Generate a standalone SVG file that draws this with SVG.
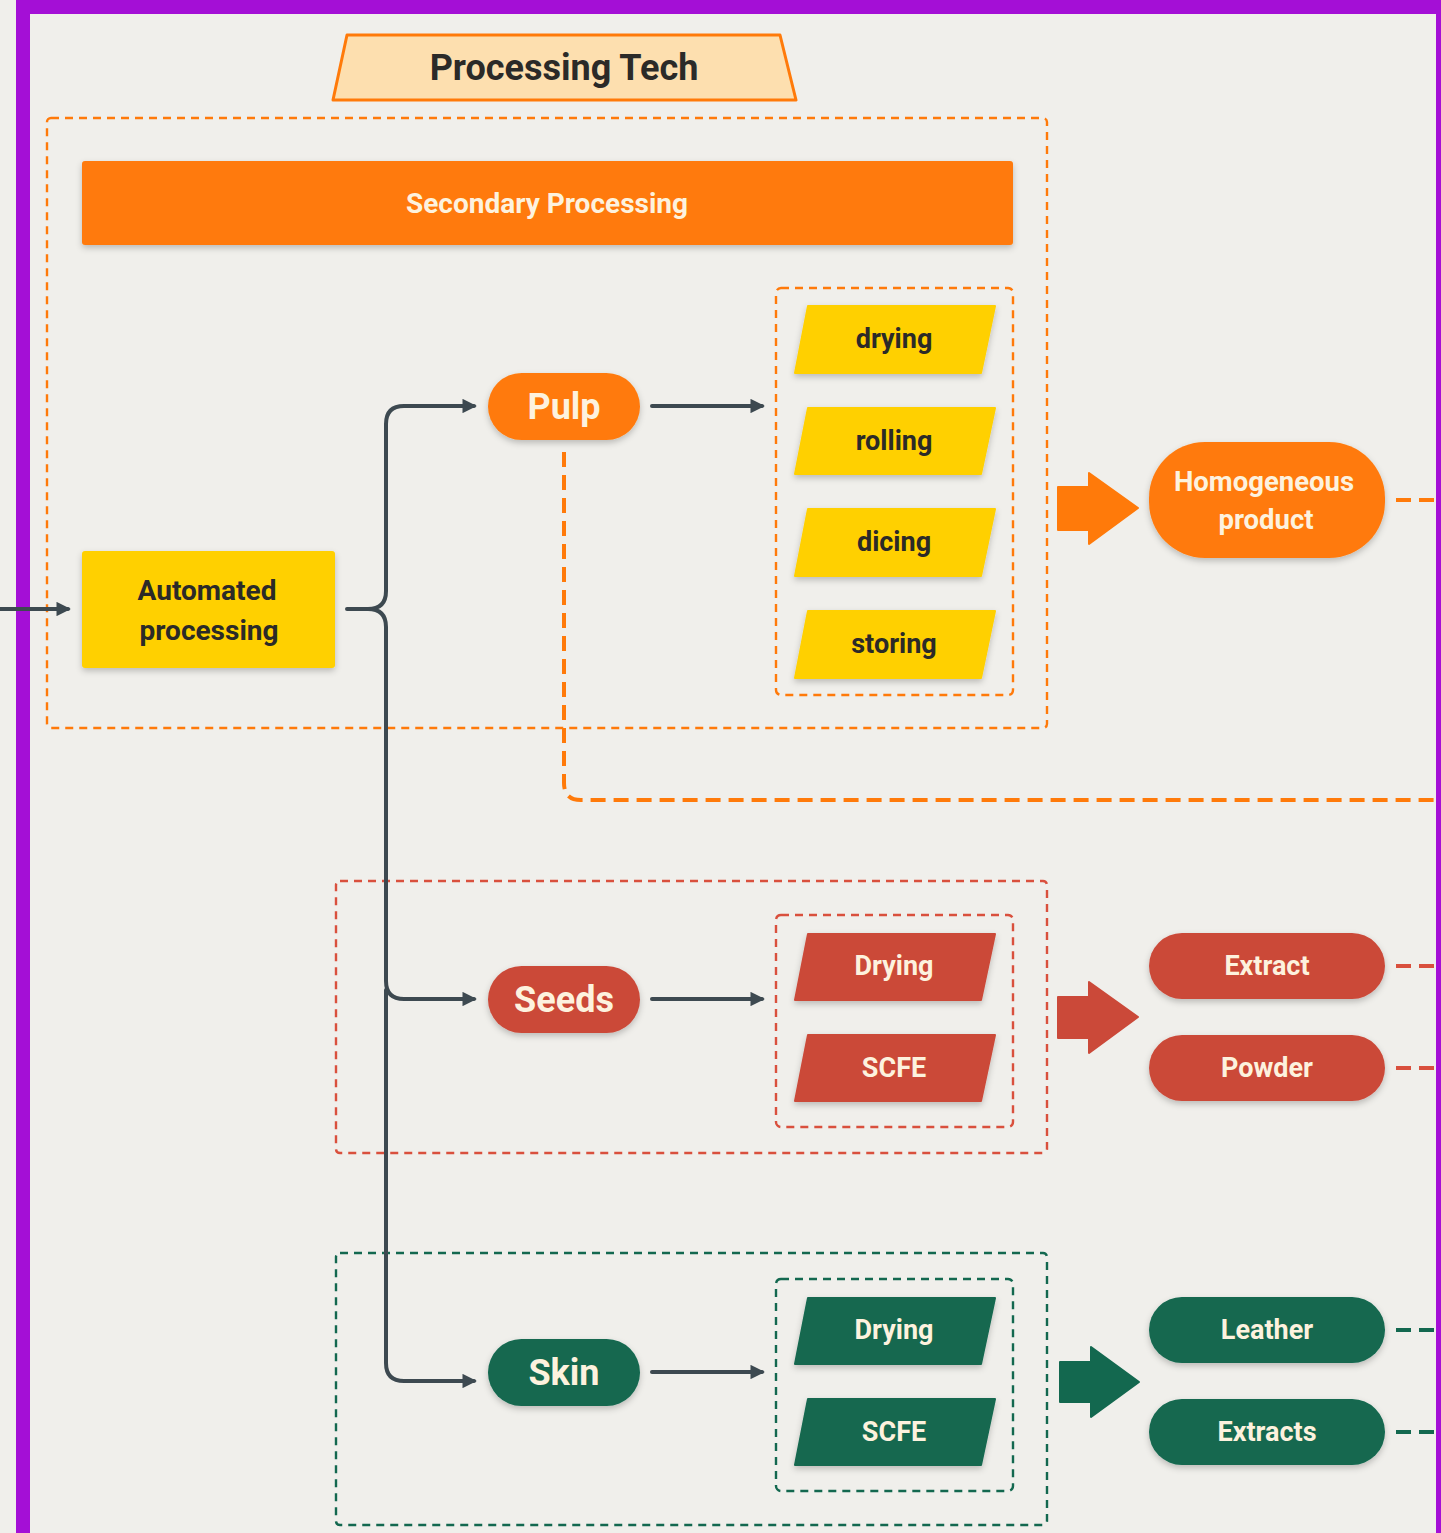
<svg xmlns="http://www.w3.org/2000/svg" width="1441" height="1533" viewBox="0 0 1441 1533">
  <defs>
    <style>
      .lbl { font-family: Roboto, "Liberation Sans", sans-serif; font-weight: 700; text-anchor: middle; }
      .dark { fill: #2B2A28; }
      .light { fill: #FDF2DE; }
      .conn { fill: none; stroke: #3D4950; stroke-width: 4; stroke-linecap: round; stroke-linejoin: round; }
      .grp { fill: none; stroke-width: 2.4; stroke-dasharray: 8 6; }
      .orange { fill: #FF7A0A; }
      .yellow { fill: #FFD000; }
      .red { fill: #CB4939; }
      .green { fill: #13684F; }
      .sh { filter: url(#shadow); }
    </style>
    <filter id="shadow" x="-10%" y="-20%" width="120%" height="150%">
      <feDropShadow dx="0" dy="3" stdDeviation="3" flood-color="#000" flood-opacity="0.22"/>
    </filter>
    <marker id="arr" viewBox="0 0 10 10" refX="8" refY="5" markerWidth="3.6" markerHeight="3.6" orient="auto" markerUnits="strokeWidth">
      <path d="M0,0 L10,5 L0,10 z" fill="#3D4950"/>
    </marker>
  </defs>

  <!-- page background and frame -->
  <rect x="0" y="0" width="1441" height="1533" fill="#F0EFEB"/>
  <rect x="23" y="7" width="1420" height="1600" fill="none" stroke="#A40FD6" stroke-width="14"/>

  <!-- title -->
  <g id="title">
    <path d="M347,35 L780,35 L796,100 L333,100 Z" fill="#FDDFAF" stroke="#FF7A0A" stroke-width="3" stroke-linejoin="round"/>
    <text class="lbl dark" x="564" y="80" font-size="36">Processing Tech</text>
  </g>

  <!-- group frames -->
  <g id="frames">
    <rect class="grp" x="47" y="118" width="1000" height="610" rx="4" stroke="#FF7A0A"/>
    <rect class="grp" x="776" y="288" width="237" height="407" rx="5" stroke="#FF7A0A"/>
    <rect class="grp" x="336" y="881" width="711" height="272" rx="4" stroke="#D9503D"/>
    <rect class="grp" x="776" y="915" width="237" height="212" rx="5" stroke="#D9503D"/>
    <rect class="grp" x="336" y="1253" width="711" height="272" rx="4" stroke="#13684F"/>
    <rect class="grp" x="776" y="1279" width="237" height="212" rx="5" stroke="#13684F"/>
  </g>

  <!-- connectors -->
  <g id="connectors">
    <path class="conn" d="M0,609 H68" marker-end="url(#arr)"/>
    <path class="conn" d="M347,609 H368 Q386,609 386,591 V424 Q386,406 404,406 H474" marker-end="url(#arr)"/>
    <path class="conn" d="M368,609 Q386,609 386,627 V981 Q386,999 404,999 H474" marker-end="url(#arr)"/>
    <path class="conn" d="M386,990 V1363 Q386,1381 404,1381 H474" marker-end="url(#arr)"/>
    <path class="conn" d="M652,406 H762" marker-end="url(#arr)"/>
    <path class="conn" d="M652,999 H762" marker-end="url(#arr)"/>
    <path class="conn" d="M652,1372 H762" marker-end="url(#arr)"/>
    <path d="M564,452 V783 Q564,800 581,800 H1441" fill="none" stroke="#FF7A0A" stroke-width="4" stroke-dasharray="15 8"/>
    <path d="M1396,500 H1441" fill="none" stroke="#FF7A0A" stroke-width="4" stroke-dasharray="15 8"/>
    <path d="M1396,966 H1441" fill="none" stroke="#D9503D" stroke-width="4" stroke-dasharray="15 8"/>
    <path d="M1396,1068 H1441" fill="none" stroke="#D9503D" stroke-width="4" stroke-dasharray="15 8"/>
    <path d="M1396,1330 H1441" fill="none" stroke="#13684F" stroke-width="4" stroke-dasharray="15 8"/>
    <path d="M1396,1432 H1441" fill="none" stroke="#13684F" stroke-width="4" stroke-dasharray="15 8"/>
    <path class="orange" d="M1058,487 H1089 V473 L1138,508 L1089,544 V530 H1058 Z" stroke="#FF7A0A" stroke-width="2" stroke-linejoin="round"/>
    <path class="red" d="M1058,997 H1089 V982 L1138,1017 L1089,1053 V1038 H1058 Z" stroke="#CB4939" stroke-width="2" stroke-linejoin="round"/>
    <path class="green" d="M1060,1362 H1091 V1347 L1139,1382 L1091,1417 V1402 H1060 Z" stroke="#13684F" stroke-width="2" stroke-linejoin="round"/>
  </g>

  <!-- header bar -->
  <g id="secondary-processing">
    <rect class="orange sh" x="82" y="161" width="931" height="84" rx="3"/>
    <text class="lbl light" x="547" y="213" font-size="28">Secondary Processing</text>
  </g>

  <g id="automated-processing">
    <rect class="yellow sh" x="82" y="551" width="253" height="117" rx="3"/>
    <text class="lbl dark" x="207" y="600" font-size="28">Automated</text>
    <text class="lbl dark" x="209" y="640" font-size="28">processing</text>
  </g>

  <!-- pulp branch -->
  <g id="pulp">
    <rect class="orange sh" x="488" y="373" width="152" height="67" rx="33.5"/>
    <text class="lbl light" x="564" y="419" font-size="36">Pulp</text>
  </g>
  <g id="pulp-drying">
    <path class="yellow sh" d="M808,306 H995 L981,373 H795 Z" stroke="#FFD000" stroke-width="2" stroke-linejoin="round"/>
    <text class="lbl dark" x="894" y="348" font-size="27">drying</text>
  </g>
  <g id="pulp-rolling">
    <path class="yellow sh" d="M808,408 H995 L981,474 H795 Z" stroke="#FFD000" stroke-width="2" stroke-linejoin="round"/>
    <text class="lbl dark" x="894" y="450" font-size="27">rolling</text>
  </g>
  <g id="pulp-dicing">
    <path class="yellow sh" d="M808,509 H995 L981,576 H795 Z" stroke="#FFD000" stroke-width="2" stroke-linejoin="round"/>
    <text class="lbl dark" x="894" y="551" font-size="27">dicing</text>
  </g>
  <g id="pulp-storing">
    <path class="yellow sh" d="M808,611 H995 L981,678 H795 Z" stroke="#FFD000" stroke-width="2" stroke-linejoin="round"/>
    <text class="lbl dark" x="894" y="653" font-size="27">storing</text>
  </g>
  <g id="homogeneous-product">
    <rect class="orange sh" x="1149" y="442" width="236" height="116" rx="56"/>
    <text class="lbl light" x="1264" y="491" font-size="27.5">Homogeneous</text>
    <text class="lbl light" x="1266" y="529" font-size="27.5">product</text>
  </g>

  <!-- seeds branch -->
  <g id="seeds">
    <rect class="red sh" x="488" y="966" width="152" height="67" rx="33.5"/>
    <text class="lbl light" x="564" y="1012" font-size="36">Seeds</text>
  </g>
  <g id="seeds-drying">
    <path class="red sh" d="M808,934 H995 L981,1000 H795 Z" stroke="#CB4939" stroke-width="2" stroke-linejoin="round"/>
    <text class="lbl light" x="894" y="975" font-size="27">Drying</text>
  </g>
  <g id="seeds-scfe">
    <path class="red sh" d="M808,1035 H995 L981,1101 H795 Z" stroke="#CB4939" stroke-width="2" stroke-linejoin="round"/>
    <text class="lbl light" x="894" y="1077" font-size="27">SCFE</text>
  </g>
  <g id="extract">
    <rect class="red sh" x="1149" y="933" width="236" height="66" rx="33"/>
    <text class="lbl light" x="1267" y="975" font-size="27">Extract</text>
  </g>
  <g id="powder">
    <rect class="red sh" x="1149" y="1035" width="236" height="66" rx="33"/>
    <text class="lbl light" x="1267" y="1077" font-size="27">Powder</text>
  </g>

  <!-- skin branch -->
  <g id="skin">
    <rect class="green sh" x="488" y="1339" width="152" height="67" rx="33.5"/>
    <text class="lbl light" x="564" y="1385" font-size="36">Skin</text>
  </g>
  <g id="skin-drying">
    <path class="green sh" d="M808,1298 H995 L981,1364 H795 Z" stroke="#13684F" stroke-width="2" stroke-linejoin="round"/>
    <text class="lbl light" x="894" y="1339" font-size="27">Drying</text>
  </g>
  <g id="skin-scfe">
    <path class="green sh" d="M808,1399 H995 L981,1465 H795 Z" stroke="#13684F" stroke-width="2" stroke-linejoin="round"/>
    <text class="lbl light" x="894" y="1441" font-size="27">SCFE</text>
  </g>
  <g id="leather">
    <rect class="green sh" x="1149" y="1297" width="236" height="66" rx="33"/>
    <text class="lbl light" x="1267" y="1339" font-size="27">Leather</text>
  </g>
  <g id="extracts">
    <rect class="green sh" x="1149" y="1399" width="236" height="66" rx="33"/>
    <text class="lbl light" x="1267" y="1441" font-size="27">Extracts</text>
  </g>
</svg>
